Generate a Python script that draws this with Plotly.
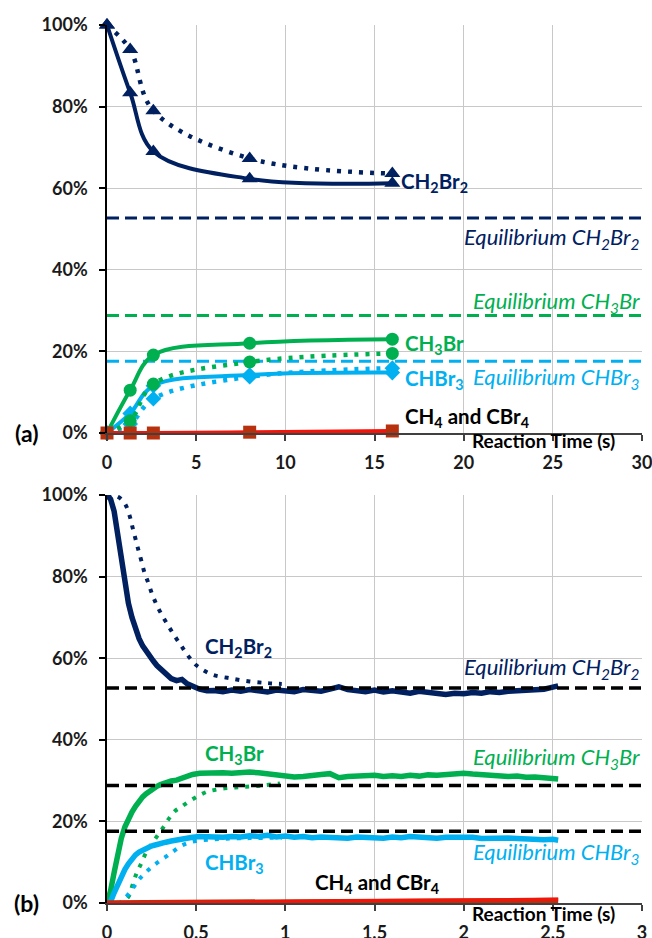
import plotly.graph_objects as go

# ---------------- Panel (a) data ----------------
t_a = [0, 1.3, 2.6, 8, 16]
ch2br2_a_solid = [100, 83.4, 69.0, 62.3, 61.2]
ch2br2_a_dot = [100, 94.0, 79.0, 67.3, 63.6]
ch3br_a_solid = [0, 10.5, 19.1, 22.0, 23.0]
ch3br_a_dot = [0, 3.0, 12.0, 17.4, 19.5]
chbr3_a_solid = [0, 4.8, 11.6, 14.2, 14.8]
chbr3_a_dot = [0, 2.2, 8.4, 13.8, 15.9]
ch4_a = [0, 0, 0, 0.2, 0.5]
eq_x_a = [0, 30]
eq_ch2br2 = 52.7
eq_ch3br = 28.8
eq_chbr3 = 17.6

# ---------------- Panel (b) data ----------------
t_b = [0, 0.02, 0.04, 0.06, 0.08, 0.10, 0.12, 0.14, 0.16, 0.18, 0.20, 0.22, 0.24,
       0.26, 0.28, 0.30, 0.33, 0.36, 0.39, 0.42, 0.45, 0.48, 0.52, 0.56, 0.60,
       0.65, 0.70, 0.75, 0.80, 0.85, 0.90, 0.95, 1.00, 1.05, 1.10, 1.15, 1.20,
       1.25, 1.30, 1.35, 1.40, 1.45, 1.50, 1.55, 1.60, 1.65, 1.70, 1.75, 1.80,
       1.85, 1.90, 1.95, 2.00, 2.05, 2.10, 2.15, 2.20, 2.25, 2.30, 2.35, 2.40,
       2.45, 2.50, 2.53]
ch2br2_b_solid = [100, 99.0, 96.0, 90.3, 83.8, 77.5, 73.5, 70.0, 66.9, 64.8, 63.0, 61.6, 60.4,
                  59.3, 58.2, 57.3, 56.2, 55.0, 54.5, 54.8, 53.7, 53.0, 52.4, 52.0, 52.1,
                  51.8, 52.2, 51.9, 52.3, 52.0, 51.7, 52.2, 52.0, 51.8, 52.3, 52.1, 51.9,
                  52.4, 53.0, 52.3, 52.1, 51.8, 52.2, 51.7, 52.0, 51.6, 51.4, 51.9, 51.7,
                  51.5, 51.1, 51.4, 51.3, 51.6, 51.4, 51.8, 51.6, 51.9, 52.0, 52.3, 52.1,
                  52.4, 52.9, 53.2]
ch3br_b_solid = [0, 3.0, 7.5, 12.0, 15.8, 18.6, 20.6, 22.3, 23.7, 25.0, 26.0, 26.8, 27.5,
                 28.1, 28.6, 29.0, 29.6, 29.9, 30.1, 30.6, 31.2, 31.5, 31.8, 31.9, 31.7,
                 31.9, 31.8, 32.0, 32.1, 31.9, 31.6, 31.4, 31.3, 30.9, 31.0, 31.4, 31.5,
                 31.7, 30.7, 31.0, 31.2, 31.1, 31.3, 31.0, 31.2, 31.0, 31.3, 31.1, 31.4,
                 31.3, 31.5, 31.4, 31.8, 31.6, 31.4, 31.2, 31.3, 31.0, 31.1, 30.8, 30.9,
                 30.6, 30.5, 30.4]
chbr3_b_solid = [0, 0.3, 2.5, 4.6, 6.5, 8.2, 9.6, 10.9, 11.8, 12.5, 13.0, 13.4, 13.8,
                 14.1, 14.4, 14.6, 14.9, 15.2, 15.5, 15.8, 16.0, 16.1, 16.3, 16.2, 16.4,
                 16.1, 16.3, 16.2, 16.5, 16.3, 16.6, 16.2, 16.4, 16.1, 16.3, 16.0, 16.2,
                 16.1, 16.3, 15.9, 16.2, 16.0, 16.1, 15.9, 16.2, 16.0, 16.3, 16.1, 16.2,
                 15.9, 16.1, 16.2, 16.0, 16.1, 15.8, 15.9, 15.7, 15.9, 15.8, 15.6, 15.7,
                 15.5, 15.6, 15.4]
t_b_red = [0, 0.5, 1.0, 1.5, 2.0, 2.53]
cbr4_b = [0, 0.15, 0.3, 0.45, 0.55, 0.65]
ch4_b = [0, 0.25, 0.45, 0.6, 0.75, 0.9]

t_b_dot_ch2br2 = [0, 0.06, 0.10, 0.127, 0.143, 0.16, 0.176, 0.193, 0.21, 0.232, 0.253,
                  0.277, 0.305, 0.333, 0.361, 0.389, 0.417, 0.441, 0.467, 0.50, 0.538,
                  0.594, 0.687, 0.80, 0.90, 0.98]
ch2br2_b_dot = [100, 99.6, 97.9, 94.9, 92.1, 89.2, 86.5, 83.8, 81.0, 78.4, 75.7,
                73.2, 70.8, 68.7, 66.7, 64.8, 63.0, 61.4, 59.9, 58.3, 57.1,
                55.9, 55.1, 54.3, 53.9, 53.7]
t_b_dot_ch3br = [0, 0.07, 0.12, 0.143, 0.166, 0.194, 0.222, 0.259, 0.292, 0.324, 0.352,
                 0.38, 0.417, 0.464, 0.51, 0.557, 0.603, 0.66, 0.72, 0.78, 0.874, 0.97]
ch3br_b_dot = [0, 0, 1.5, 4.4, 7.3, 9.9, 12.6, 15.0, 17.1, 19.1, 21.0,
               22.5, 23.6, 25.0, 26.2, 27.2, 27.7, 28.1, 28.3, 28.5, 28.8, 29.3]
t_b_dot_chbr3 = [0, 0.07, 0.125, 0.157, 0.184, 0.222, 0.259, 0.296, 0.333, 0.37, 0.408,
                 0.445, 0.50, 0.60, 0.70, 0.80, 0.98]
chbr3_b_dot = [0, 0, 2.4, 4.4, 6.0, 7.7, 9.1, 10.3, 11.4, 12.6, 13.8,
               14.6, 15.2, 15.6, 15.8, 15.9, 16.0]
eq_x_b = [0, 3]

# ---------------- Styles ----------------
NAVY = '#002060'
GREEN = '#00B050'
LBLUE = '#00B0F0'
RED = '#F5140A'
DRED = '#B8310F'
FONT = 'Lato'
DOT = '4px,7px'
DASH = '12px,6px'

fig = go.Figure()

def add(x, y, color, width, dash=None, marker=None, xa='x', ya='y', shape='linear'):
    kw = dict(x=x, y=y, xaxis=xa, yaxis=ya, showlegend=False, cliponaxis=False,
              line=dict(color=color, width=width, dash=dash, shape=shape, smoothing=1.0),
              hoverinfo='skip')
    if marker:
        kw['mode'] = 'lines+markers'
        kw['marker'] = marker
    else:
        kw['mode'] = 'lines'
    fig.add_trace(go.Scatter(**kw))

# Panel (a) equilibrium lines
add(eq_x_a, [eq_ch2br2, eq_ch2br2], NAVY, 3, DASH)
add(eq_x_a, [eq_ch3br, eq_ch3br], GREEN, 3, DASH)
add(eq_x_a, [eq_chbr3, eq_chbr3], LBLUE, 3, DASH)

# Panel (a) series
add(t_a, ch2br2_a_dot, NAVY, 4.5, DOT, dict(symbol='triangle-up', size=14, color=NAVY), shape='spline')
add(t_a, ch2br2_a_solid, NAVY, 4, None, dict(symbol='triangle-up', size=14, color=NAVY), shape='spline')
add(t_a, chbr3_a_dot, LBLUE, 4.5, DOT, dict(symbol='diamond', size=12, color=LBLUE), shape='spline')
add(t_a, chbr3_a_solid, LBLUE, 4, None, dict(symbol='diamond', size=12, color=LBLUE), shape='spline')
add(t_a, ch3br_a_dot, GREEN, 4.5, DOT, dict(symbol='circle', size=13, color=GREEN), shape='spline')
add(t_a, ch3br_a_solid, GREEN, 4, None, dict(symbol='circle', size=13, color=GREEN), shape='spline')
add(t_a, ch4_a, RED, 4, None, dict(symbol='square', size=13, color=DRED), shape='spline')

# Panel (b) series
add(t_b_dot_ch2br2, ch2br2_b_dot, NAVY, 4, DOT, xa='x2', ya='y2', shape='spline')
add(t_b_dot_ch3br, ch3br_b_dot, GREEN, 4, DOT, xa='x2', ya='y2', shape='spline')
add(t_b_dot_chbr3, chbr3_b_dot, LBLUE, 4, DOT, xa='x2', ya='y2', shape='spline')
add(t_b, ch2br2_b_solid, NAVY, 5.5, xa='x2', ya='y2')
add(t_b, ch3br_b_solid, GREEN, 5.5, xa='x2', ya='y2')
add(t_b, chbr3_b_solid, LBLUE, 5.5, xa='x2', ya='y2')
add(t_b_red, cbr4_b, DRED, 5.5, xa='x2', ya='y2')
add(t_b_red, ch4_b, RED, 3, xa='x2', ya='y2')

# Panel (b) equilibrium lines
for v in (eq_ch2br2, eq_ch3br, eq_chbr3):
    add(eq_x_b, [v, v], 'black', 3.5, DASH, xa='x2', ya='y2')

tickfont = dict(family=FONT, size=18, color='#1a1a1a', weight='bold')
grid = '#C8C8C8'
common_x = dict(showgrid=True, gridcolor=grid, gridwidth=1, showline=True, linecolor='#404040',
                linewidth=1.5, ticks='outside', ticklen=6, tickcolor='#404040', tickwidth=1.5,
                tickfont=tickfont, zeroline=False, domain=[0, 1], ticklabelstandoff=7,
                automargin=False, ticklabeloverflow='allow')
common_y = dict(showgrid=True, gridcolor=grid, gridwidth=1, showline=True, linecolor='black',
                linewidth=1.5, ticks='outside', ticklen=6, tickcolor='black', tickwidth=1.5,
                tickfont=tickfont, zeroline=False, range=[0, 100],
                tickvals=[0, 20, 40, 60, 80, 100], ticktext=['0%', '20%', '40%', '60%', '80%', '100%'],
                ticklabelstandoff=8, automargin=False)

fig.update_layout(
    width=652, height=938, autosize=False,
    margin=dict(l=107, r=10, t=25, b=35, autoexpand=False),
    paper_bgcolor='white', plot_bgcolor='white',
    xaxis=dict(**common_x, range=[0, 30], tickvals=[0, 5, 10, 15, 20, 25, 30], anchor='y'),
    yaxis=dict(**common_y, domain=[0.5353, 1.0], anchor='x'),
    xaxis2=dict(**common_x, range=[0, 3], tickvals=[0, 0.5, 1, 1.5, 2, 2.5, 3],
                ticktext=['0', '0.5', '1', '1.5', '2', '2.5', '3'], anchor='y2'),
    yaxis2=dict(**common_y, domain=[0, 0.4647], anchor='x2'),
)

def ann(text, x, y, color, xa, ya, xanchor='left', size=20.5, yanchor='middle'):
    fig.add_annotation(text=text, x=x, y=y, xref=xa, yref=ya, showarrow=False,
                       xanchor=xanchor, yanchor=yanchor,
                       font=dict(family=FONT, size=size, color=color))

EQ = 22
# Panel (a) labels
ann('<b>CH<sub>2</sub>Br<sub>2</sub></b>', 16.4, 61.3, NAVY, 'x', 'y')
ann('<i>Equilibrium CH<sub>2</sub>Br<sub>2</sub></i>', 30, 47.8, NAVY, 'x', 'y', 'right', EQ)
ann('<i>Equilibrium CH<sub>3</sub>Br</i>', 30, 32.2, GREEN, 'x', 'y', 'right', EQ)
ann('<b>CH<sub>3</sub>Br</b>', 16.6, 21.6, GREEN, 'x', 'y')
ann('<b>CHBr<sub>3</sub></b>', 16.6, 13.0, LBLUE, 'x', 'y')
ann('<i>Equilibrium CHBr<sub>3</sub></i>', 30, 13.5, LBLUE, 'x', 'y', 'right', EQ)
ann('<b>CH<sub>4</sub> and CBr<sub>4</sub></b>', 16.6, 3.7, 'black', 'x', 'y')

# Panel (b) labels
ann('<b>CH<sub>2</sub>Br<sub>2</sub></b>', 0.538, 62.5, NAVY, 'x2', 'y2')
ann('<i>Equilibrium CH<sub>2</sub>Br<sub>2</sub></i>', 3, 57.6, NAVY, 'x2', 'y2', 'right', EQ)
ann('<b>CH<sub>3</sub>Br</b>', 0.538, 36.3, GREEN, 'x2', 'y2')
ann('<i>Equilibrium CH<sub>3</sub>Br</i>', 3, 35.5, GREEN, 'x2', 'y2', 'right', EQ)
ann('<b>CHBr<sub>3</sub></b>', 0.538, 9.8, LBLUE, 'x2', 'y2')
ann('<i>Equilibrium CHBr<sub>3</sub></i>', 3, 12.3, LBLUE, 'x2', 'y2', 'right', EQ)
ann('<b>CH<sub>4</sub> and CBr<sub>4</sub></b>', 1.155, 4.9, 'black', 'x2', 'y2')

# Axis titles and panel letters (paper coordinates)
ann('<b>Reaction Time (s)</b>', 0.953, 0.5262, 'black', 'paper', 'paper', 'right', 19)
ann('<b>Reaction Time (s)</b>', 0.953, -0.0114, 'black', 'paper', 'paper', 'right', 19)
ann('<b>(a)</b>', -0.1514, 0.5353, 'black', 'paper', 'paper', 'center', 23)
ann('<b>(b)</b>', -0.1514, 0.0, 'black', 'paper', 'paper', 'center', 23)

fig.write_html('out.html', config={'displayModeBar': False},
               post_script="document.body.style.margin='0';document.body.style.overflow='hidden';")
